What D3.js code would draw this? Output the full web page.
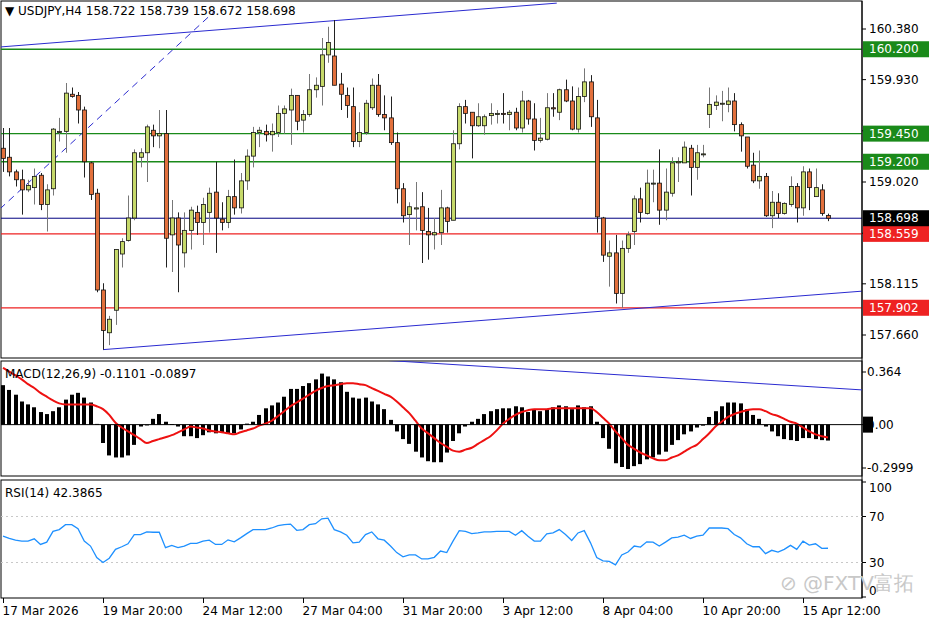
<!DOCTYPE html>
<html><head><meta charset="utf-8">
<script src="https://cdn.jsdelivr.net/npm/d3@7"></script>
<style>body{margin:0;background:#fff}svg{display:block}text{font-family:Tahoma,"DejaVu Sans",sans-serif}</style>
</head><body><svg id="c" width="936" height="624"></svg>
<script>
const openP=[159.32,159.24,159.11,159.04,158.95,158.97,159.08,158.82,158.96,159.46,159.47,159.80,159.79,159.66,159.19,158.92,158.06,157.68,157.88,158.38,158.50,158.70,159.24,159.28,159.48,159.43,159.45,158.55,158.70,158.39,158.59,158.75,158.66,158.75,158.93,
158.69,158.66,158.89,158.79,159.03,159.25,159.46,159.47,159.44,159.46,159.63,159.66,159.79,159.57,159.62,159.84,159.87,160.15,160.14,159.89,159.79,159.69,159.38,159.46,159.68,159.88,159.62,159.59,159.37,158.96,158.73,158.78,158.80,158.58,
158.55,158.57,158.79,158.68,159.36,159.69,159.64,159.52,159.52,159.61,159.62,159.63,159.62,159.64,159.50,159.74,159.58,159.39,159.40,159.68,159.64,159.84,159.74,159.49,159.78,159.91,159.59,158.70,158.36,158.39,158.03,158.43,158.58,
158.87,158.74,159.01,159.01,158.77,158.92,159.19,159.19,159.32,159.15,159.27,159.62,159.70,159.72,159.71,159.74,159.53,159.42,159.17,159.03,159.07,158.72,158.84,158.74,158.82,158.98,158.79,159.11,158.89,158.95,158.722];
const highP=[159.50,159.50,159.13,159.13,159.04,159.14,159.10,159.00,159.50,159.59,159.90,159.86,159.82,159.69,159.20,158.96,158.12,157.83,158.42,158.52,158.90,159.31,159.32,159.53,159.53,159.66,159.66,158.86,158.75,158.75,158.80,158.81,158.88,158.97,159.20,
158.84,158.95,159.22,159.10,159.31,159.51,159.51,159.53,159.54,159.70,159.70,159.85,159.79,159.66,159.98,159.95,160.30,160.40,160.46,159.99,159.86,159.86,159.64,159.75,159.94,159.98,159.79,159.78,159.46,159.01,158.84,159.02,158.93,158.79,
158.70,158.95,158.80,159.48,159.72,159.75,159.64,159.72,159.62,159.72,159.66,159.81,159.66,159.68,159.83,159.75,159.72,159.59,159.81,159.81,159.85,159.93,159.87,159.86,160.03,159.97,159.75,158.71,158.50,158.55,158.50,158.58,158.90,
158.97,159.13,159.13,159.31,159.14,159.24,159.24,159.38,159.35,159.35,159.35,159.86,159.79,159.83,159.86,159.81,159.55,159.42,159.28,159.30,159.10,158.94,158.92,158.84,159.07,159.01,159.16,159.14,159.14,159.00,158.739];
const lowP=[159.11,159.07,158.98,158.73,158.93,158.82,158.77,158.58,158.90,159.38,159.28,159.77,159.54,159.06,158.86,158.04,157.53,157.57,157.75,158.26,158.49,158.68,159.15,159.02,159.33,159.32,158.26,158.22,158.04,158.26,158.42,158.55,158.46,158.57,158.39,
158.59,158.61,158.73,158.74,158.95,159.15,159.33,159.38,159.29,159.42,159.45,159.35,159.48,159.46,159.60,159.77,159.70,160.08,159.88,159.66,159.59,159.33,159.33,159.44,159.66,159.60,159.48,159.35,158.83,158.66,158.46,158.59,158.30,158.33,
158.42,158.46,158.57,158.68,159.31,159.54,159.23,159.51,159.44,159.53,159.54,159.54,159.48,159.48,159.46,159.53,159.30,159.37,159.39,159.60,159.57,159.73,159.48,159.46,159.73,159.51,158.57,158.31,158.09,157.94,157.90,158.39,158.46,
158.66,158.73,158.84,158.64,158.68,158.89,159.02,159.19,158.90,159.04,159.24,159.50,159.66,159.56,159.64,159.47,159.29,159.14,159.01,158.96,158.71,158.61,158.70,158.73,158.80,158.66,158.72,158.77,158.89,158.72,158.672];
const closeP=[159.23,159.11,159.04,158.95,158.99,159.07,158.82,158.95,159.49,159.47,159.81,159.78,159.66,159.20,158.91,158.06,157.70,157.80,158.42,158.49,158.70,159.28,159.28,159.51,159.43,159.45,158.52,158.70,158.46,158.59,158.77,158.66,158.82,158.92,158.70,
158.66,158.89,158.79,159.03,159.25,159.46,159.48,159.44,159.47,159.63,159.67,159.79,159.56,159.62,159.84,159.88,160.15,160.26,159.88,159.80,159.70,159.38,159.46,159.72,159.88,159.62,159.59,159.37,158.96,158.72,158.80,158.79,158.59,158.55,
158.57,158.79,158.67,159.36,159.69,159.63,159.52,159.60,159.60,159.63,159.63,159.62,159.64,159.50,159.74,159.58,159.39,159.41,159.68,159.67,159.84,159.74,159.49,159.78,159.91,159.60,158.71,158.37,158.39,158.03,158.43,158.55,158.87,
158.75,159.01,159.01,158.77,158.93,159.19,159.20,159.33,159.15,159.28,159.27,159.71,159.73,159.72,159.74,159.53,159.43,159.16,159.03,159.07,158.72,158.84,158.74,158.83,158.98,158.79,159.11,158.97,158.97,158.74,158.698];
const macdV=[0.273,0.240,0.207,0.160,0.140,0.120,0.087,0.073,0.093,0.120,0.173,0.207,0.220,0.187,0.153,0.005,-0.127,-0.213,-0.227,-0.227,-0.213,-0.140,-0.013,-0.005,0.040,0.073,0.020,0.003,-0.013,-0.080,-0.080,-0.093,-0.073,-0.053,-0.060,-0.053,-0.060,-0.060,-0.033,0.007,0.020,0.067,0.113,0.133,0.153,0.193,0.247,0.247,0.267,0.287,0.313,0.353,0.333,0.313,0.293,0.227,0.187,0.180,0.187,0.160,0.140,0.107,0.033,-0.047,-0.100,-0.133,-0.187,-0.227,-0.253,-0.260,-0.260,-0.193,-0.113,-0.060,-0.013,0.020,0.040,0.073,0.093,0.107,0.113,0.113,0.127,0.120,0.087,0.107,0.093,0.107,0.120,0.133,0.127,0.107,0.133,0.120,0.127,0.020,-0.093,-0.167,-0.267,-0.293,-0.307,-0.287,-0.273,-0.240,-0.227,-0.207,-0.187,-0.140,-0.107,-0.067,-0.047,-0.020,-0.007,0.053,0.093,0.127,0.153,0.153,0.147,0.107,0.067,0.040,-0.013,-0.047,-0.080,-0.100,-0.107,-0.113,-0.093,-0.093,-0.100,-0.107,-0.1101];
const signalV=[0.393,0.367,0.340,0.313,0.280,0.253,0.220,0.193,0.167,0.147,0.140,0.140,0.140,0.140,0.140,0.127,0.107,0.067,0.013,-0.020,-0.047,-0.073,-0.100,-0.127,-0.113,-0.100,-0.087,-0.073,-0.053,-0.033,-0.013,-0.020,-0.027,-0.040,-0.047,-0.053,-0.060,-0.067,-0.053,-0.040,-0.027,-0.007,0.007,0.027,0.060,0.093,0.127,0.153,0.180,0.207,0.233,0.253,0.267,0.273,0.280,0.287,0.287,0.280,0.273,0.253,0.233,0.213,0.193,0.160,0.120,0.080,0.027,-0.027,-0.060,-0.093,-0.127,-0.153,-0.180,-0.187,-0.173,-0.160,-0.133,-0.107,-0.080,-0.040,0.007,0.040,0.067,0.087,0.100,0.107,0.107,0.107,0.113,0.113,0.113,0.113,0.113,0.113,0.113,0.087,0.047,0.007,-0.047,-0.093,-0.140,-0.167,-0.193,-0.213,-0.233,-0.247,-0.247,-0.227,-0.213,-0.187,-0.160,-0.140,-0.100,-0.060,-0.013,0.020,0.053,0.073,0.087,0.100,0.107,0.107,0.093,0.073,0.060,0.040,0.020,0.007,-0.020,-0.047,-0.067,-0.080,-0.0897];
const rsiV=[52.9,50.9,49.4,48.6,48.6,50.6,45.7,47.7,57.1,58.6,62.9,62.9,59.4,48.6,44.3,34.3,30.0,33.7,41.4,43.7,46.3,54.3,54.3,56.6,56.3,56.3,42.9,44.9,42.9,44.3,46.6,46.6,48.6,49.4,45.7,45.7,49.7,48.0,51.4,55.1,58.6,58.6,58.6,60.0,62.0,62.9,63.4,58.0,58.6,62.9,63.7,68.0,68.6,58.6,56.6,53.7,47.1,47.7,54.3,56.6,50.6,49.4,44.3,38.6,34.9,36.6,36.6,33.1,33.1,34.5,40.0,38.6,48.6,57.7,57.1,55.1,55.7,56.6,56.6,57.1,57.1,57.1,53.7,57.7,52.9,48.6,48.6,54.9,55.7,58.6,54.3,49.1,55.7,57.7,47.1,34.3,31.4,30.9,28.0,36.6,39.1,44.3,43.4,48.0,47.7,44.3,47.7,51.4,52.0,53.7,50.9,52.9,53.7,60.0,60.0,60.0,59.4,54.3,51.4,46.3,43.7,43.7,37.7,40.6,39.1,41.4,44.9,41.4,48.6,45.1,46.3,42.3,42.39];
const timeLabels=[[0,"17 Mar 2026"],[16,"19 Mar 20:00"],[32,"24 Mar 12:00"],[48,"27 Mar 04:00"],[64,"31 Mar 20:00"],[80,"3 Apr 12:00"],[96,"8 Apr 04:00"],[112,"10 Apr 20:00"],[128,"15 Apr 12:00"]];
const priceTicks=[160.380,159.930,159.475,159.020,158.565,158.115,157.660];
const levels=[[160.200,"#1a8a1a"],[159.450,"#1a8a1a"],[159.200,"#1a8a1a"],[158.559,"#ee2222"],[157.902,"#ee2222"],[158.698,"#000080"]];
const macdTicks=[[0.364,"0.364"],[0,"0.00"],[-0.2999,"-0.2999"]];
const rsiTicks=[100,70,30,0];

const svg=d3.select("#c");
const W=862;
const x=d3.scaleLinear().domain([0,132]).range([3,828]);
const y=d3.scaleLinear().domain([157.66,160.38]).range([335,29]);
const ym=d3.scaleLinear().domain([-0.2999,0.364]).range([468,372]);
const yr=d3.scaleLinear().domain([0,100]).range([597,482]);
const idx=d3.range(closeP.length);
const fs="12px";

svg.append("rect").attr("x",1).attr("y",1).attr("width",W-1).attr("height",357).attr("fill","none").attr("stroke","#000");
svg.append("rect").attr("x",1).attr("y",361).attr("width",W-1).attr("height",115).attr("fill","none").attr("stroke","#000");
svg.append("rect").attr("x",1).attr("y",480).attr("width",W-1).attr("height",118).attr("fill","none").attr("stroke","#000");

const clipM=svg.append("clipPath").attr("id","cm").append("rect").attr("x",1).attr("y",1).attr("width",W-1).attr("height",357);
const clipD=svg.append("clipPath").attr("id","cd").append("rect").attr("x",1).attr("y",361).attr("width",W-1).attr("height",115);

const main=svg.append("g").attr("clip-path","url(#cm)");
levels.forEach(([p,c])=>main.append("line").attr("x1",1).attr("x2",W).attr("y1",y(p)).attr("y2",y(p)).attr("stroke",c).attr("stroke-width",c==="#000080"?1:1.3));
const tl=(g,x1,p1,x2,p2,dash,sc)=>{sc=sc||y;return g.append("line").attr("x1",x(x1)).attr("y1",sc(p1)).attr("x2",x(x2)).attr("y2",sc(p2)).attr("stroke","#2b2bd0").attr("stroke-width",1).attr("stroke-dasharray",dash||null);};
tl(main,-0.5,160.22,88.6,160.61);
tl(main,-0.5,158.78,33.9,160.54,"7,5");
tl(main,16,157.53,137.5,158.05);
main.selectAll(".w").data(idx).join("line").attr("x1",i=>Math.round(x(i))+0.5).attr("x2",i=>Math.round(x(i))+0.5)
 .attr("y1",i=>y(highP[i])).attr("y2",i=>y(lowP[i])).attr("stroke",i=>closeP[i]>=openP[i]?"#777":"#222");
main.selectAll(".b").data(idx).join("rect").attr("x",i=>Math.round(x(i))-1.5).attr("width",4)
 .attr("y",i=>y(Math.max(openP[i],closeP[i]))).attr("height",i=>Math.max(1,Math.abs(y(openP[i])-y(closeP[i]))))
 .attr("fill",i=>closeP[i]>=openP[i]?"#c6d96a":"#e2703c").attr("stroke","#111").attr("stroke-width",0.8);

svg.append("line").attr("x1",W).attr("x2",W).attr("y1",1).attr("y2",598).attr("stroke","#000");
priceTicks.forEach(p=>{svg.append("line").attr("x1",W).attr("x2",W+4).attr("y1",y(p)).attr("y2",y(p)).attr("stroke","#000");
 svg.append("text").attr("x",W+7).attr("y",y(p)+4).attr("font-size",fs).text(p.toFixed(3));});
levels.forEach(([p,c])=>{const yy=y(p);svg.append("rect").attr("x",W+1).attr("y",yy-8).attr("width",66).attr("height",16).attr("fill",c==="#000080"?"#000":c);
 svg.append("text").attr("x",W+7).attr("y",yy+4).attr("font-size",fs).attr("fill","#fff").text(p.toFixed(3));});
svg.append("text").attr("x",5).attr("y",15).attr("font-size",fs).text("▼ USDJPY,H4  158.722 158.739 158.672 158.698");

const mg=svg.append("g").attr("clip-path","url(#cd)");
tl(mg,55.5,0.46,137.5,0.24,null,ym);
mg.selectAll(".m").data(idx).join("rect").attr("x",i=>Math.round(x(i))-2).attr("width",4)
 .attr("y",i=>Math.min(ym(0),ym(macdV[i]))).attr("height",i=>Math.max(0.8,Math.abs(ym(macdV[i])-ym(0)))).attr("fill","#000");
mg.append("path").datum(idx).attr("d",d3.line().x(i=>x(i)).y(i=>ym(signalV[i])).curve(d3.curveMonotoneX)).attr("fill","none").attr("stroke","#ee1111").attr("stroke-width",2);
mg.append("line").attr("x1",1).attr("x2",W).attr("y1",ym(0)).attr("y2",ym(0)).attr("stroke","#000");
macdTicks.forEach(([v,t])=>{svg.append("line").attr("x1",W).attr("x2",W+4).attr("y1",ym(v)).attr("y2",ym(v)).attr("stroke","#000");
 if(v===0){svg.append("rect").attr("x",W+1).attr("y",ym(v)-8).attr("width",10).attr("height",16).attr("fill","#000");}
 svg.append("text").attr("x",W+5).attr("y",ym(v)+4).attr("font-size",fs).text(t);});
svg.append("text").attr("x",5).attr("y",378).attr("font-size",fs).text("MACD(12,26,9) -0.1101 -0.0897");

const rg=svg.append("g");
[70,30].forEach(v=>rg.append("line").attr("x1",1).attr("x2",W).attr("y1",yr(v)).attr("y2",yr(v)).attr("stroke","#c8c8c8").attr("stroke-dasharray","2,3"));
rg.append("path").datum(idx).attr("d",d3.line().x(i=>x(i)).y(i=>yr(rsiV[i]))).attr("fill","none").attr("stroke","#1e90ff").attr("stroke-width",1.3);
rsiTicks.forEach(v=>{svg.append("line").attr("x1",W).attr("x2",W+4).attr("y1",yr(v)).attr("y2",yr(v)).attr("stroke","#000");
 svg.append("text").attr("x",W+7).attr("y",yr(v)+(v===100?10:v===0?-2:4)).attr("font-size",fs).text(v);});
svg.append("text").attr("x",5).attr("y",497).attr("font-size",fs).text("RSI(14) 42.3865");
svg.append("text").attr("x",780).attr("y",590).attr("font-size","20px").attr("fill","#c8c8c8").attr("font-family","Noto Sans CJK SC").text("⊘ @FXTV富拓");

timeLabels.forEach(([i,t])=>{const xx=Math.round(x(i))+0.5;svg.append("line").attr("x1",xx).attr("x2",xx).attr("y1",598).attr("y2",603).attr("stroke","#000");
 svg.append("text").attr("x",xx-1).attr("y",615).attr("font-size",fs).text(t);});
</script></body></html>
